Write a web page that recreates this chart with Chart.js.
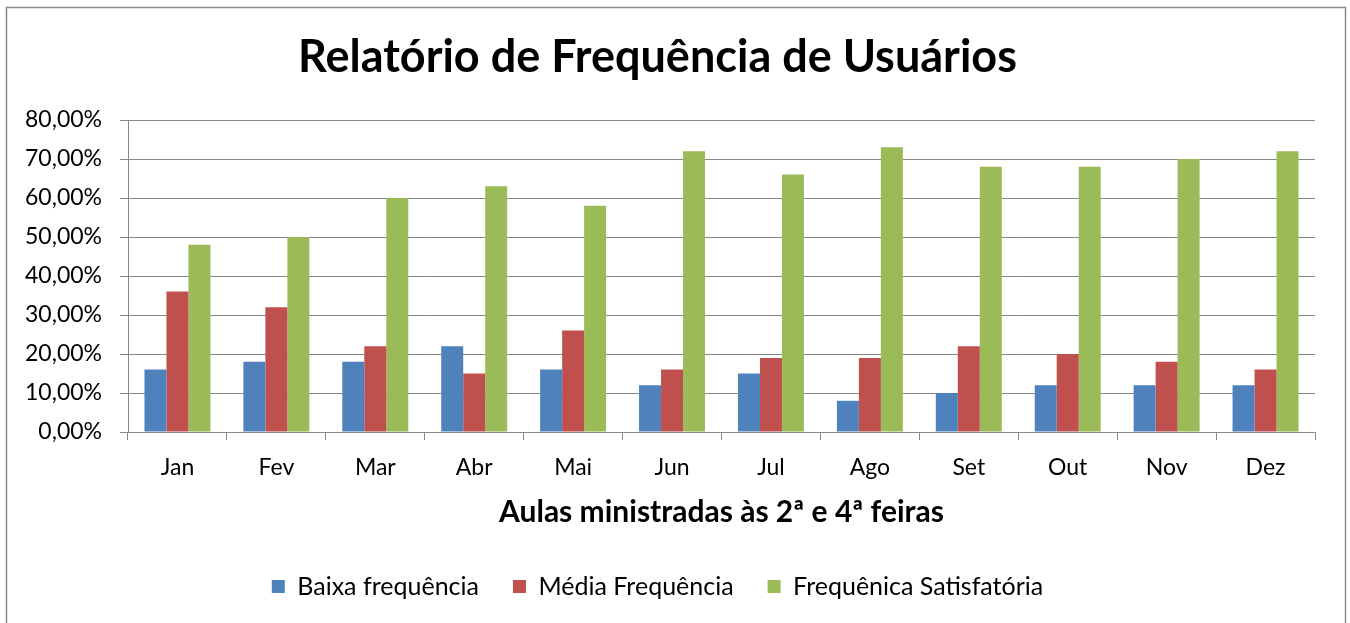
<!DOCTYPE html>
<html>
<head>
<meta charset="utf-8">
<script src="https://cdn.jsdelivr.net/npm/chart.js@4/dist/chart.umd.min.js"></script>
<style>
  html, body { margin: 0; padding: 0; background: #fff; }
  #wrap { width: 1350px; height: 623px; position: relative; }
</style>
</head>
<body>
<div id="wrap"><canvas id="freqChart" width="1350" height="623"></canvas></div>
<script>
const months   = ['Jan', 'Fev', 'Mar', 'Abr', 'Mai', 'Jun', 'Jul', 'Ago', 'Set', 'Out', 'Nov', 'Dez'];
const baixa    = [16, 18, 18, 22, 16, 12, 15, 8, 10, 12, 12, 12];
const media    = [36, 32, 22, 15, 26, 16, 19, 19, 22, 20, 18, 16];
const satisf   = [48, 50, 60, 63, 58, 72, 66, 73, 68, 68, 70, 72];
const seriesNames = ['Baixa frequência', 'Média Frequência', 'Frequênica Satisfatória'];

const FONT = "Lato, 'Open Sans', sans-serif";
const GRID = '#878787';

// outer frame like the Excel chart area
const framePlugin = {
    id: 'frame',
    beforeDraw(chart) {
        const ctx = chart.ctx;
        ctx.save();
        ctx.fillStyle = '#ffffff';
        ctx.fillRect(0, 0, chart.width, chart.height);
        ctx.strokeStyle = '#8c8c8c';
        ctx.lineWidth = 1.5;
        ctx.strokeRect(6.5, 7.5, 1339, 700);
        ctx.restore();
    }
};

new Chart(document.getElementById('freqChart'), {
    type: 'bar',
    data: {
        labels: months,
        datasets: [
            { label: seriesNames[0], data: baixa,  backgroundColor: '#4F81BD' },
            { label: seriesNames[1], data: media,  backgroundColor: '#C0504D' },
            { label: seriesNames[2], data: satisf, backgroundColor: '#9BBB59' }
        ]
    },
    options: {
        responsive: false,
        animation: false,
        layout: { padding: { left: 0, right: 35, top: 0, bottom: 14 } },
        datasets: {
            bar: { categoryPercentage: 0.667, barPercentage: 1.0 }
        },
        scales: {
            x: {
                offset: true,
                grid: {
                    offset: true,
                    drawOnChartArea: false,
                    drawTicks: true,
                    tickLength: 8,
                    color: GRID
                },
                border: { display: true, color: GRID, width: 1 },
                ticks: { font: { family: FONT, size: 23 }, color: '#000', padding: 14, maxRotation: 0 },
                title: {
                    display: true,
                    text: 'Aulas ministradas às 2ª e 4ª feiras',
                    font: { family: FONT, size: 30, weight: 'bold' },
                    color: '#000',
                    padding: { top: 8, bottom: 10 }
                },
                afterFit(scale) { scale.height = 108; }
            },
            y: {
                min: 0,
                max: 80,
                ticks: {
                    stepSize: 10,
                    font: { family: FONT, size: 23 },
                    color: '#000',
                    padding: 18,
                    callback: v => v.toFixed(2).replace('.', ',') + '%'
                },
                grid: { color: GRID, tickLength: 8, lineWidth: 1 },
                border: { display: true, color: GRID, width: 1 },
                afterFit(scale) { scale.width = 128; }
            }
        },
        plugins: {
            title: {
                display: true,
                text: 'Relatório de Frequência de Usuários',
                font: { family: FONT, size: 45, weight: 'bold' },
                color: '#000',
                padding: { top: 30, bottom: 36 }
            },
            legend: {
                position: 'bottom',
                labels: {
                    boxWidth: 13,
                    boxHeight: 13,
                    padding: 34,
                    font: { family: FONT, size: 25 },
                    color: '#000'
                }
            },
            tooltip: { enabled: false }
        }
    },
    plugins: [framePlugin]
});
</script>
</body>
</html>
